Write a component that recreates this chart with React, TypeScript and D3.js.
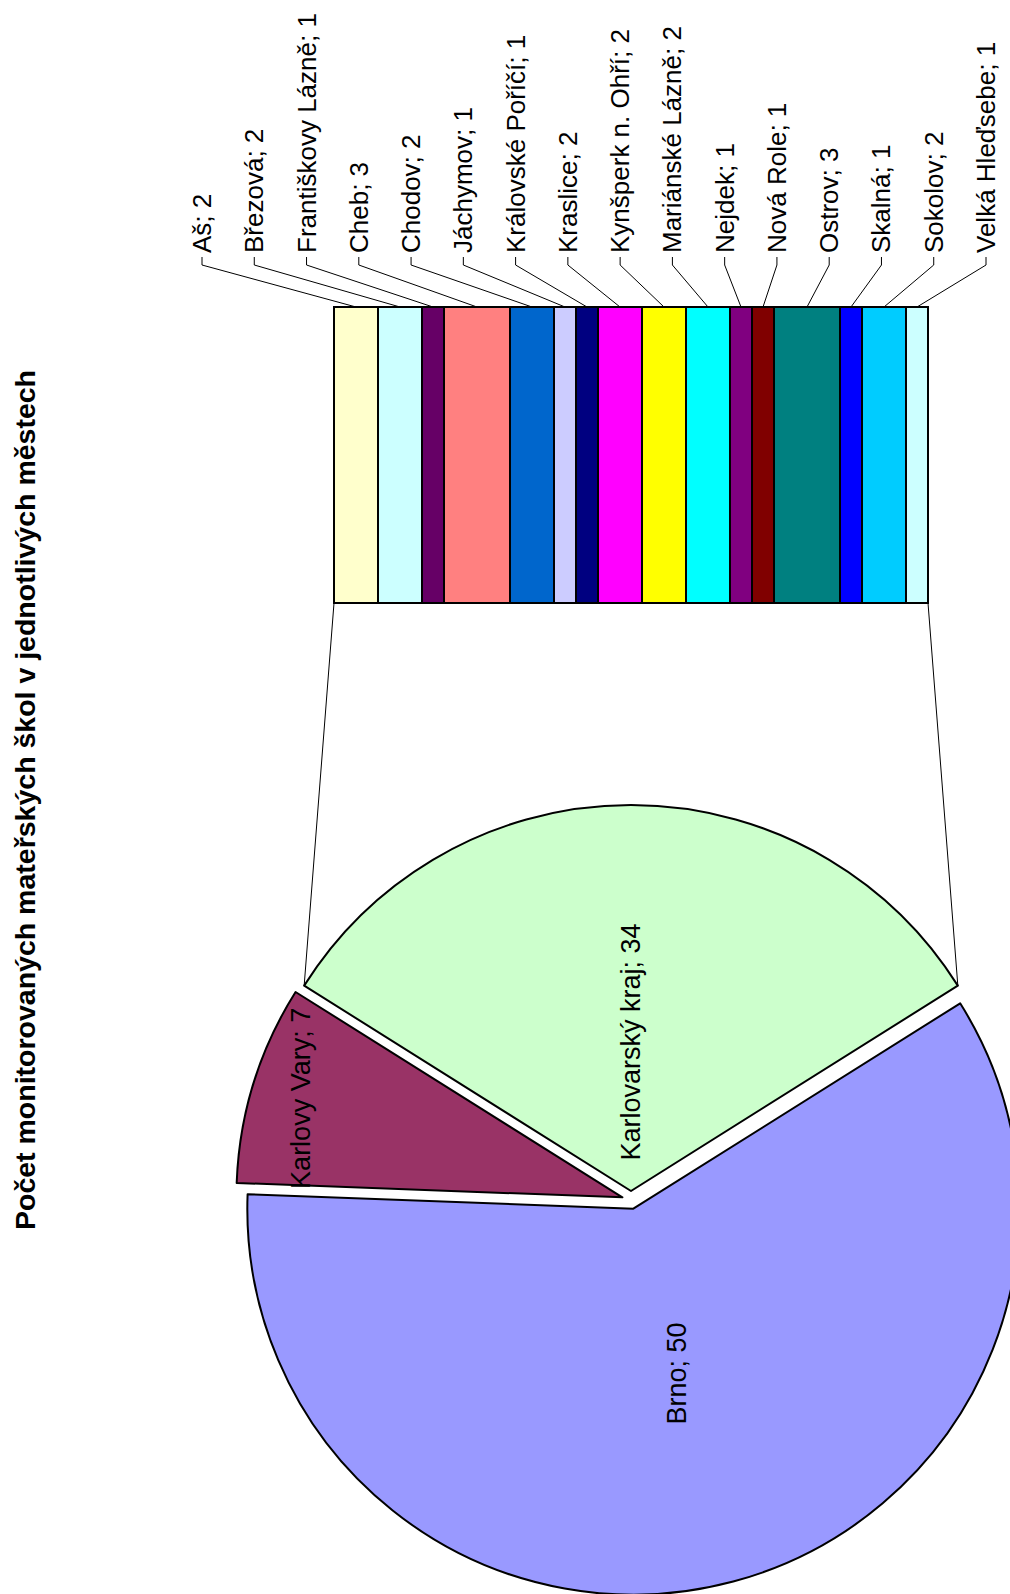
import React from 'react';
import * as d3 from 'd3';

// ---------- data ----------
const title = 'Počet monitorovaných mateřských škol v jednotlivých městech';

const pieNames = ['Brno', 'Karlovy Vary'];
const pieValues = [50, 7];
const pieColors = ['#9999FF', '#993366'];

const otherName = 'Karlovarský kraj';
const otherLabelValue = 34;
const otherColor = '#CCFFCC';

const barNames = [
  'Aš', 'Březová', 'Františkovy Lázně', 'Cheb', 'Chodov', 'Jáchymov',
  'Královské Poříčí', 'Kraslice', 'Kynšperk n. Ohří', 'Mariánské Lázně',
  'Nejdek', 'Nová Role', 'Ostrov', 'Skalná', 'Sokolov', 'Velká Hleďsebe',
];
const barValues = [2, 2, 1, 3, 2, 1, 1, 2, 2, 2, 1, 1, 3, 1, 2, 1];
const barColors = [
  '#FFFFCC', '#CCFFFF', '#660066', '#FF8080', '#0066CC', '#CCCCFF',
  '#000080', '#FF00FF', '#FFFF00', '#00FFFF', '#800080', '#800000',
  '#008080', '#0000FF', '#00CCFF', '#CCFFFF',
];

// ---------- layout ----------
const W = 1010;
const H = 1594;
const FONT = '"Liberation Sans", Arial, Helvetica, sans-serif';

export default function App() {
  // secondary stacked bar (drawn vertically stacked left->right in the rotated picture)
  const barX0 = 334, barX1 = 928, barTop = 307, barBottom = 603;
  const total = d3.sum(barValues);
  const xs = d3.scaleLinear().domain([0, total]).range([barX0, barX1]);
  const stacked: { name: string; v: number; a: number; b: number; color: string }[] = [];
  let cum = 0;
  barValues.forEach((v, i) => {
    stacked.push({ name: barNames[i], v, a: cum, b: cum + v, color: barColors[i] });
    cum += v;
  });
  const labelX = d3.scalePoint<string>().domain(barNames).range([202, 986]);
  const labelStartY = 253;

  // pie
  const cx = 631, cy = 1200, r = 386, explode = 9;
  const otherValue = total;
  const sliceValues = [otherValue, ...pieValues];
  const sliceNames = [otherName, ...pieNames];
  const sliceLabelValues = [otherLabelValue, ...pieValues];
  const sliceColors = [otherColor, ...pieColors];
  const labelFrac = [0.386, 0.442, 0.87];
  const theta = (2 * Math.PI * otherValue) / d3.sum(sliceValues);
  const pie = d3.pie<number>().sort(null).startAngle(-theta / 2).endAngle(2 * Math.PI - theta / 2);
  const arcs = pie(sliceValues);
  const arcGen = d3.arc<d3.PieArcDatum<number>>().innerRadius(0).outerRadius(r);

  const slices = arcs.map((a, i) => {
    const mid = (a.startAngle + a.endAngle) / 2;
    const ox = cx + Math.sin(mid) * explode;
    const oy = cy - Math.cos(mid) * explode;
    const lr = r * labelFrac[i];
    return {
      a, i, ox, oy,
      lx: ox + Math.sin(mid) * lr,
      ly: oy - Math.cos(mid) * lr,
    };
  });
  const other = slices[0];
  const pL = [other.ox + Math.sin(other.a.startAngle) * r, other.oy - Math.cos(other.a.startAngle) * r];
  const pR = [other.ox + Math.sin(other.a.endAngle) * r, other.oy - Math.cos(other.a.endAngle) * r];

  return (
    <svg
      width={W}
      height={H}
      viewBox={`0 0 ${W} ${H}`}
      style={{ position: 'absolute', left: 0, top: 0, background: '#fff' }}
      fontFamily={FONT}
    >
      <rect x={0} y={0} width={W} height={H} fill="#fff" />
      {/* title */}
      <text
        transform="translate(35,800) rotate(-90)"
        textAnchor="middle"
        fontWeight="bold"
        fontSize={28.5}
        fill="#000"
      >
        {title}
      </text>

      {/* connector lines */}
      <line x1={pL[0]} y1={pL[1]} x2={xs(0)} y2={barBottom} stroke="#000" strokeWidth={1} />
      <line x1={pR[0]} y1={pR[1]} x2={xs(total)} y2={barBottom} stroke="#000" strokeWidth={1} />

      {/* pie slices */}
      {slices.map((s) => (
        <path
          key={'s' + s.i}
          d={arcGen(s.a) || ''}
          transform={`translate(${s.ox},${s.oy})`}
          fill={sliceColors[s.i]}
          stroke="#000"
          strokeWidth={2}
          strokeLinejoin="round"
        />
      ))}
      {slices.map((s) => (
        <text
          key={'t' + s.i}
          transform={`translate(${s.lx},${s.ly}) rotate(-90)`}
          textAnchor="middle"
          dominantBaseline="central"
          fontSize={27}
          fill="#000"
        >
          {`${sliceNames[s.i]}; ${sliceLabelValues[s.i]}`}
        </text>
      ))}

      {/* stacked bar */}
      {stacked.map((d) => (
        <rect
          key={'b' + d.name}
          x={xs(d.a)}
          y={barTop}
          width={xs(d.b) - xs(d.a)}
          height={barBottom - barTop}
          fill={d.color}
          stroke="#000"
          strokeWidth={2}
        />
      ))}

      {/* bar labels + leaders */}
      {stacked.map((d) => {
        const lx = labelX(d.name) as number;
        const sx = xs((d.a + d.b) / 2);
        return (
          <g key={'l' + d.name}>
            <polyline
              points={`${lx},${labelStartY + 4} ${lx},${labelStartY + 12} ${sx},${barTop}`}
              fill="none"
              stroke="#000"
              strokeWidth={1}
            />
            <text
              transform={`translate(${lx},${labelStartY}) rotate(-90)`}
              textAnchor="start"
              dominantBaseline="central"
              fontSize={26}
              fill="#000"
            >
              {`${d.name}; ${d.v}`}
            </text>
          </g>
        );
      })}
    </svg>
  );
}
